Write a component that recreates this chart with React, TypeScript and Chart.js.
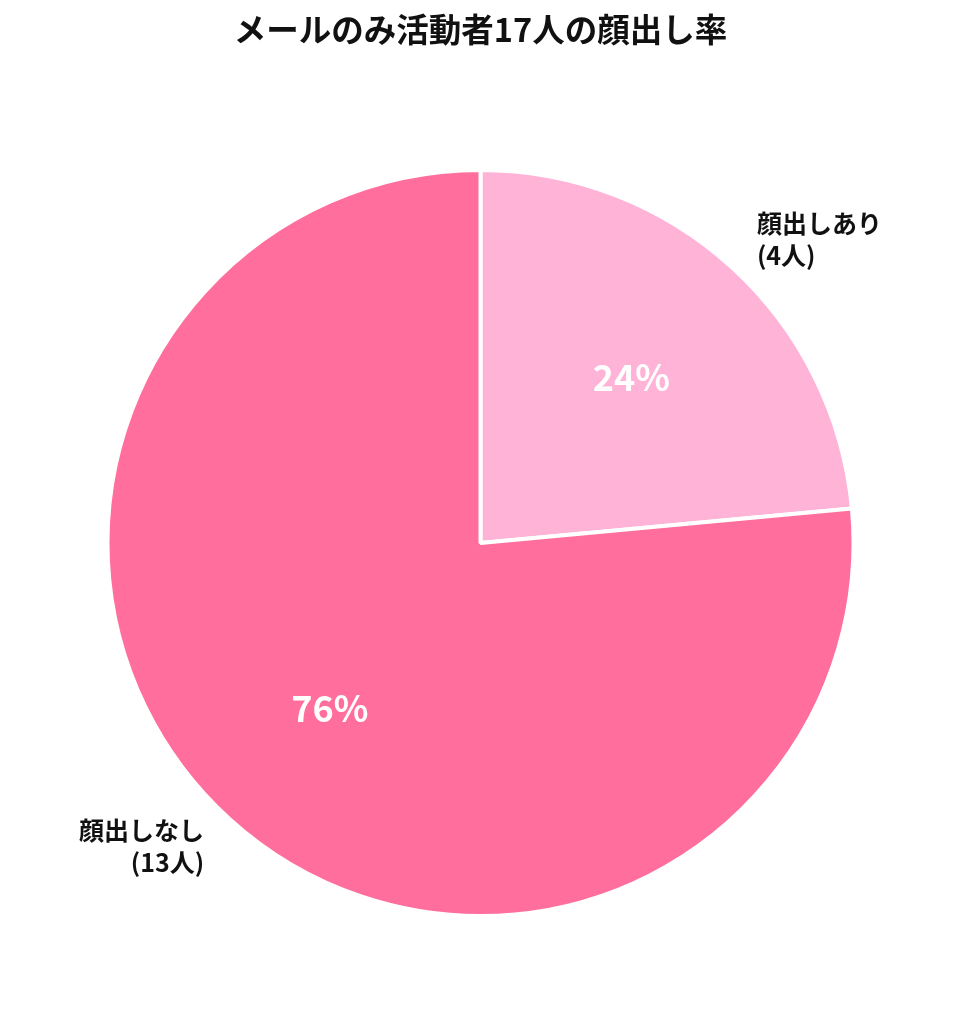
import { useEffect, useRef } from 'react';
import { Chart, registerables } from 'chart.js';

Chart.register(...registerables);

const TITLE = 'メールのみ活動者17人の顔出し率';
const categories = ['顔出しあり', '顔出しなし'];
const counts = [4, 13];
const colors = ['#FFB3D7', '#FF6E9C'];

const FONT = '"Noto Sans CJK JP", "Noto Sans", sans-serif';

const labelPlugin = {
  id: 'pieLabels',
  afterDraw(chart: any) {
    const ctx = chart.ctx as CanvasRenderingContext2D;
    const meta = chart.getDatasetMeta(0);
    const total = counts.reduce((a, b) => a + b, 0);

    ctx.save();
    // title
    ctx.fillStyle = '#111';
    ctx.font = `bold 32.5px ${FONT}`;
    ctx.textAlign = 'center';
    ctx.textBaseline = 'middle';
    ctx.fillText(TITLE, chart.width / 2, 30);

    meta.data.forEach((arc: any, i: number) => {
      const { x, y, startAngle, endAngle, outerRadius } = arc.getProps(
        ['x', 'y', 'startAngle', 'endAngle', 'outerRadius'],
        true
      );
      const mid = (startAngle + endAngle) / 2;
      const cos = Math.cos(mid);
      const sin = Math.sin(mid);

      // percent inside
      const pct = Math.round((counts[i] / total) * 100);
      ctx.fillStyle = '#ffffff';
      ctx.font = `bold 36px ${FONT}`;
      ctx.textAlign = 'center';
      ctx.textBaseline = 'middle';
      ctx.fillText(`${pct}%`, x + cos * outerRadius * 0.6, y + sin * outerRadius * 0.6);

      // outer label
      const lx = x + cos * outerRadius * 1.1;
      const ly = y + sin * outerRadius * 1.1;
      ctx.fillStyle = '#111';
      ctx.font = `bold 25px ${FONT}`;
      ctx.textAlign = cos >= 0 ? 'left' : 'right';
      ctx.fillText(categories[i], lx, ly - 16);
      ctx.fillText(`(${counts[i]}人)`, lx, ly + 16);
    });
    ctx.restore();
  },
};

const App: React.FC = () => {
  const canvasRef = useRef<HTMLCanvasElement>(null);
  const chartRef = useRef<Chart | null>(null);

  useEffect(() => {
    document.body.style.margin = '0';
    if (!canvasRef.current) return;
    const ctx = canvasRef.current.getContext('2d');
    if (!ctx) return;

    chartRef.current = new Chart(ctx, {
      type: 'pie',
      data: {
        labels: categories,
        datasets: [
          {
            data: counts,
            backgroundColor: colors,
            borderColor: '#ffffff',
            borderWidth: 4,
          },
        ],
      },
      options: {
        animation: false,
        responsive: true,
        maintainAspectRatio: false,
        layout: { padding: { top: 168, bottom: 106, left: 105, right: 105 } },
        plugins: {
          legend: { display: false },
          tooltip: { enabled: false },
          title: { display: false },
        },
      },
      plugins: [labelPlugin],
    });

    return () => {
      chartRef.current?.destroy();
      chartRef.current = null;
    };
  }, []);

  return (
    <div style={{ width: 961, height: 1024, position: 'relative', background: '#fff' }}>
      <canvas ref={canvasRef} />
    </div>
  );
};

export default App;
